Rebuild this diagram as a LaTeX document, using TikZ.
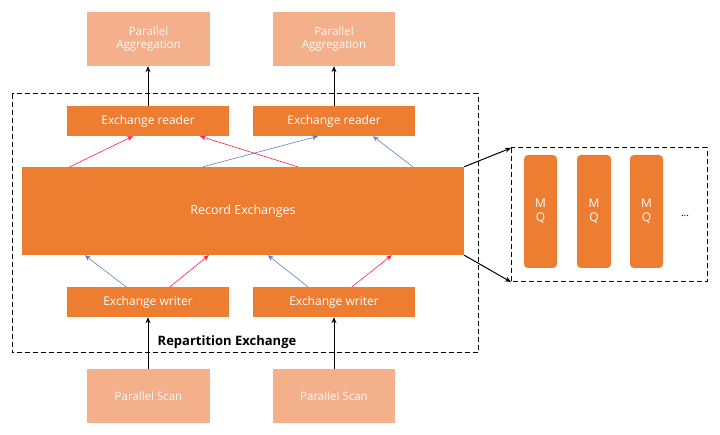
\documentclass[tikz,border=0pt]{standalone}
\usepackage{fontspec}
\setmainfont{Open Sans}
\usetikzlibrary{arrows.meta,positioning}
\definecolor{orangeM}{HTML}{ED7D31}
\definecolor{orangeL}{HTML}{F4B08A}
\definecolor{redA}{HTML}{FF1F3A}
\definecolor{blueA}{HTML}{5B7FD0}
\tikzset{
  main/.style={fill=orangeM, draw=none, text=white, font=\fontsize{12}{14}\selectfont, inner sep=0pt},
  light/.style={fill=orangeL, draw=none, text=white!92!orangeL, font=\fontsize{11.5}{13}\selectfont, inner sep=0pt, align=center},
  mq/.style={fill=orangeM, draw=none, rounded corners=4pt, text=white, font=\fontsize{12}{14}\selectfont, align=center, inner sep=0pt},
  blk/.style={-{Stealth[length=6pt,width=5pt]}, line width=1pt, black},
  redar/.style={-{Stealth[length=6pt,width=5pt]}, line width=0.6pt, redA},
  bluear/.style={-{Stealth[length=6pt,width=5pt]}, line width=0.6pt, blueA},
  dbox/.style={draw=black, dashed, line width=1pt, dash pattern=on 5pt off 3pt},
}
\begin{document}
\begin{tikzpicture}[x=1pt,y=-1pt]
\useasboundingbox (0,0) rectangle (720,435);
% dashed boxes
\draw[dbox] (12,94) rectangle (478,353);
\draw[dbox] (511,148) rectangle (707,282);
% aggregation
\node[light, minimum width=123pt, minimum height=54pt] (agg1) at (148.5,39) {Parallel\\Aggregation};
\node[light, minimum width=122pt, minimum height=54pt] (agg2) at (334,39) {Parallel\\Aggregation};
% readers
\node[main, minimum width=162pt, minimum height=30pt] (rd1) at (148,121) {Exchange reader};
\node[main, minimum width=162pt, minimum height=30pt] (rd2) at (334,121) {Exchange reader};
% record exchanges
\node[main, minimum width=442pt, minimum height=88pt, font=\fontsize{12.5}{14}\selectfont] (rec) at (243,211) {Record Exchanges};
% writers
\node[main, minimum width=162pt, minimum height=30pt] (wr1) at (148,302) {Exchange writer};
\node[main, minimum width=162pt, minimum height=30pt] (wr2) at (334,302) {Exchange writer};
% scans
\node[light, minimum width=123pt, minimum height=54pt] (sc1) at (148.5,396) {Parallel Scan};
\node[light, minimum width=122pt, minimum height=54pt] (sc2) at (334,396) {Parallel Scan};
% label
\node[font=\bfseries\fontsize{13}{15}\selectfont, anchor=center] (lbl) at (227,342) {Repartition Exchange};
% MQ
\node[mq, minimum width=33pt, minimum height=113pt] (mq1) at (540.5,211.5) {M\\Q};
\node[mq, minimum width=34pt, minimum height=113pt] (mq2) at (594,211.5) {M\\Q};
\node[mq, minimum width=33pt, minimum height=113pt] (mq3) at (646.5,211.5) {M\\Q};
\node[font=\fontsize{10}{12}\selectfont] (dots) at (685,216) {...};
% black arrows
\draw[blk] (rd1.north) -- (agg1.south -| rd1.north);
\draw[blk] (rd2.north) -- (agg2.south);
\draw[blk] (sc1.north -| wr1.south) -- (wr1.south);
\draw[blk] (sc2.north) -- (wr2.south);
% zoom arrows
\coordinate (mqtl) at (511,148);
\coordinate (mqbl) at (511,282);
\draw[blk] (rec.north east) -- (mqtl);
\draw[blk] (rec.south east) -- (mqbl);
% top colored arrows
\draw[redar] ([xshift=48pt]rec.north west) -- ([xshift=-15pt]rd1.south);
\draw[redar] ([xshift=276pt]rec.north west) -- ([xshift=52pt]rd1.south);
\draw[bluear] ([xshift=181pt]rec.north west) -- ([xshift=-16pt]rd2.south);
\draw[bluear] ([xshift=391pt]rec.north west) -- ([xshift=39pt]rd2.south);
% bottom colored arrows
\draw[bluear] ([xshift=-22pt]wr1.north) -- ([xshift=63pt]rec.south west);
\draw[redar] ([xshift=22pt]wr1.north) -- ([xshift=187pt]rec.south west);
\draw[bluear] ([xshift=-26pt]wr2.north) -- ([xshift=246pt]rec.south west);
\draw[redar] ([xshift=18pt]wr2.north) -- ([xshift=370pt]rec.south west);
\end{tikzpicture}
\end{document}
